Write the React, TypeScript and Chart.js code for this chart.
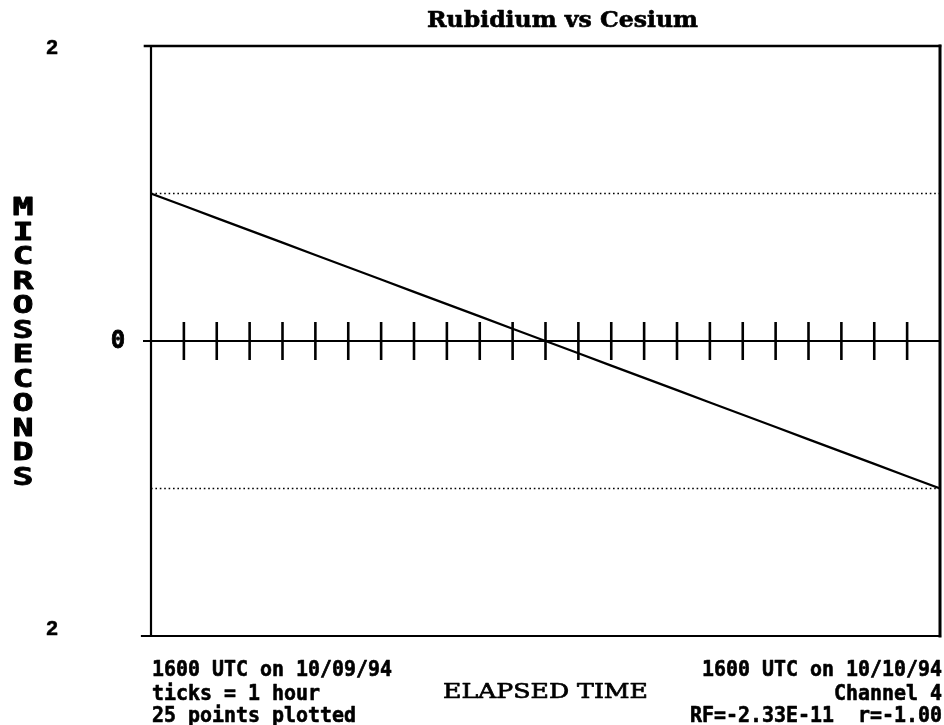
import React, { useEffect, useRef } from "react";
import { Chart, registerables } from "chart.js";

Chart.register(...registerables);

// ---- data ----
const hours = [0, 1, 2, 3, 4, 5, 6, 7, 8, 9, 10, 11, 12, 13, 14, 15, 16, 17, 18, 19, 20, 21, 22, 23, 24];
const offsetMicroseconds = [
  1.0, 0.917, 0.833, 0.75, 0.667, 0.583, 0.5, 0.417, 0.333, 0.25, 0.167, 0.083, 0.0,
  -0.083, -0.167, -0.25, -0.333, -0.417, -0.5, -0.583, -0.667, -0.75, -0.833, -0.917, -1.0,
];
const tickHours = [1, 2, 3, 4, 5, 6, 7, 8, 9, 10, 11, 12, 13, 14, 15, 16, 17, 18, 19, 20, 21, 22, 23];
const refLevels = [1, -1];
const yTickValues = [2, 0, -2];
const yTickLabels = ["2", "0", "2"];
const titleText = "Rubidium vs Cesium";
const yAxisTitle = "MICROSECONDS";
const xAxisTitle = "ELAPSED TIME";
const leftNotes = ["1600 UTC on 10/09/94", "ticks = 1 hour", "25 points plotted"];
const rightNotes = ["1600 UTC on 10/10/94", "Channel 4", "RF=-2.33E-11  r=-1.00"];

const MONO = "'DejaVu Sans Mono', 'Liberation Mono', monospace";
const SERIF = "'DejaVu Serif', 'Liberation Serif', serif";

function heavyText(ctx: CanvasRenderingContext2D, text: string, x: number, y: number, weight: number) {
  ctx.fillText(text, x, y);
  if (weight > 0) {
    ctx.lineWidth = weight;
    ctx.strokeText(text, x, y);
  }
}

function drawFitted(
  ctx: CanvasRenderingContext2D,
  text: string,
  cx: number,
  baseline: number,
  width: number,
  font: string,
  weight: number
) {
  ctx.save();
  ctx.font = font;
  const w = ctx.measureText(text).width;
  ctx.translate(cx, baseline);
  ctx.scale(width / w, 1);
  ctx.textAlign = "center";
  ctx.textBaseline = "alphabetic";
  heavyText(ctx, text, 0, 0, weight);
  ctx.restore();
}

function drawMonoLine(
  ctx: CanvasRenderingContext2D,
  text: string,
  x: number,
  baseline: number,
  align: "left" | "right",
  charW: number
) {
  ctx.save();
  ctx.font = `bold 21px ${MONO}`;
  const w = ctx.measureText(text).width;
  const target = charW * text.length;
  const sx = target / w;
  ctx.translate(x, baseline);
  ctx.scale(sx, 1);
  ctx.textAlign = align;
  ctx.textBaseline = "alphabetic";
  heavyText(ctx, text, 0, 0, 0.6);
  ctx.restore();
}

const decorPlugin = {
  id: "decor",
  beforeDatasetsDraw(chart: any) {
    const { ctx, chartArea, scales } = chart;
    const x = scales.x;
    const y = scales.y;
    ctx.save();
    ctx.strokeStyle = "#000";
    // dotted reference lines
    ctx.lineWidth = 1.6;
    ctx.setLineDash([1.6, 2.8]);
    refLevels.forEach((v) => {
      const py = y.getPixelForValue(v);
      ctx.beginPath();
      ctx.moveTo(chartArea.left, py);
      ctx.lineTo(chartArea.right, py);
      ctx.stroke();
    });
    ctx.setLineDash([]);
    // zero line
    const y0 = y.getPixelForValue(0);
    ctx.lineWidth = 2.2;
    ctx.beginPath();
    ctx.moveTo(chartArea.left - 8, y0);
    ctx.lineTo(chartArea.right, y0);
    ctx.stroke();
    // hour ticks
    ctx.lineWidth = 2.6;
    tickHours.forEach((h) => {
      const px = x.getPixelForValue(h);
      ctx.beginPath();
      ctx.moveTo(px, y0 - 19);
      ctx.lineTo(px, y0 + 19);
      ctx.stroke();
    });
    ctx.restore();
  },
  afterDraw(chart: any) {
    const { ctx, chartArea, scales } = chart;
    const y = scales.y;
    const { left, right, top, bottom } = chartArea;
    ctx.save();
    ctx.strokeStyle = "#000";
    ctx.fillStyle = "#000";
    ctx.lineCap = "square";
    // frame
    ctx.lineWidth = 2.6;
    ctx.beginPath();
    ctx.moveTo(left - 6, top);
    ctx.lineTo(right, top);
    ctx.stroke();
    ctx.lineWidth = 2.2;
    ctx.beginPath();
    ctx.moveTo(left - 9, bottom);
    ctx.lineTo(right, bottom);
    ctx.stroke();
    ctx.beginPath();
    ctx.moveTo(left, top);
    ctx.lineTo(left, bottom);
    ctx.stroke();
    ctx.lineWidth = 3;
    ctx.beginPath();
    ctx.moveTo(right, top);
    ctx.lineTo(right, bottom);
    ctx.stroke();
    ctx.lineCap = "butt";
    ctx.lineJoin = "round";

    // title
    drawFitted(ctx, titleText, (left + right) / 2 + 17, 27, 271, `bold 22px ${SERIF}`, 0.6);

    // y tick labels
    yTickValues.forEach((v, i) => {
      const py = y.getPixelForValue(v);
      ctx.textBaseline = "alphabetic";
      ctx.textAlign = "center";
      if (v === 0) {
        ctx.font = `bold 24px ${MONO}`;
        heavyText(ctx, yTickLabels[i], 118, py + 7, 0.8);
      } else {
        ctx.font = `bold 21px 'Liberation Sans', Arial, sans-serif`;
        heavyText(ctx, yTickLabels[i], 52, v > 0 ? py + 7.5 : py - 1, 0.5);
      }
    });

    // vertical stacked y-axis title
    const y0 = y.getPixelForValue(0);
    const letters = yAxisTitle.split("");
    const spacing = 24.5;
    const startY = y0 - ((letters.length - 1) * spacing) / 2;
    ctx.font = `bold 25px ${MONO}`;
    letters.forEach((ch, i) => {
      ctx.save();
      ctx.translate(23, startY + i * spacing + 9);
      ctx.scale(1.4, 1);
      ctx.textAlign = "center";
      ctx.textBaseline = "alphabetic";
      heavyText(ctx, ch, 0, 0, 0.8);
      ctx.restore();
    });

    // x axis title
    drawFitted(ctx, xAxisTitle, (left + right) / 2, 698, 205, `21px ${SERIF}`, 0.7);

    // notes
    const baselines = [676, 699.5, 722];
    leftNotes.forEach((t, i) => drawMonoLine(ctx, t, left + 1, baselines[i], "left", 12));
    rightNotes.forEach((t, i) => drawMonoLine(ctx, t, right + 2, baselines[i], "right", 12));
    ctx.restore();
  },
};

export default function App() {
  const canvasRef = useRef<HTMLCanvasElement | null>(null);

  useEffect(() => {
    const canvas = canvasRef.current;
    if (!canvas) return;
    const chart = new Chart(canvas, {
      type: "line",
      data: {
        labels: hours,
        datasets: [
          {
            data: hours.map((h, i) => ({ x: h, y: offsetMicroseconds[i] })),
            borderColor: "#000",
            borderWidth: 2.2,
            pointRadius: 0,
            tension: 0,
            fill: false,
          },
        ],
      },
      options: {
        animation: false,
        responsive: false,
        devicePixelRatio: 1,
        layout: { padding: { left: 151, right: 4, top: 46, bottom: 89 } },
        plugins: { legend: { display: false }, tooltip: { enabled: false }, title: { display: false } },
        scales: {
          x: { type: "linear", min: 0, max: 24, display: false },
          y: { type: "linear", min: -2, max: 2, display: false },
        },
      },
      plugins: [decorPlugin],
    });
    return () => chart.destroy();
  }, []);

  return (
    <div style={{ position: "absolute", left: 0, top: 0, width: 944, height: 725, background: "#fff" }}>
      <canvas ref={canvasRef} width={944} height={725} style={{ display: "block", width: 944, height: 725 }} />
    </div>
  );
}
